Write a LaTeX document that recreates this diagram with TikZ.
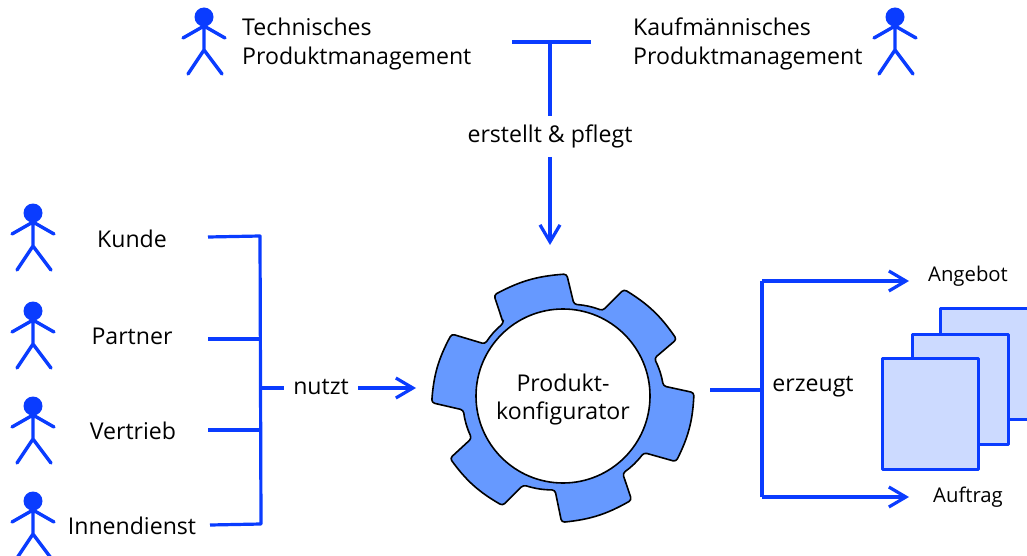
\documentclass[tikz,border=0pt]{standalone}
\usepackage{fontspec}
\setmainfont{Open Sans}
\usetikzlibrary{arrows.meta}
\definecolor{lineblue}{RGB}{10,60,255}
\definecolor{gearblue}{RGB}{102,153,255}
\definecolor{paperblue}{RGB}{204,218,255}
\tikzset{
  conn/.style={draw=lineblue,line width=3.2pt},
  arrowconn/.style={conn,-{Straight Barb[length=17pt,width=20pt,line width=3.2pt]}},
  txt/.style={inner sep=0pt,font=\fontsize{23.1}{29}\selectfont,text=black,align=center},
  smalltxt/.style={inner sep=0pt,font=\fontsize{20.3}{24}\selectfont,text=black},
  paper/.style={draw=lineblue,line width=3pt,fill=paperblue,line join=round},
  actor/.pic={
    \fill[lineblue] (0,-4) ellipse (9.5 and 9.5);
    \draw[lineblue,line width=3.4pt,line cap=round,line join=round]
      (-21,17) -- (0,5) -- (21,17)
      (0,0) -- (0,29)
      (-16,53) -- (0,29) -- (18,53);
  }
}
\begin{document}
\begin{tikzpicture}[x=1pt,y=-1pt]
\clip (0,0) rectangle (1027,556);
\fill[white] (0,0) rectangle (1027,556);
% actors
\pic at (204,21) {actor};
\pic at (895,21) {actor};
\pic at (33,217) {actor};
\pic at (33,315) {actor};
\pic at (33,410) {actor};
\pic at (33,505) {actor};
% labels
\node[txt,anchor=west,align=left] (tech) at (242,44) {Technisches\\Produktmanagement};
\node[txt,anchor=west,align=left] (kauf) at (633,44) {Kaufmännisches\\Produktmanagement};
\node[txt] (erstellt) at (550,136) {erstellt \& pflegt};
\node[txt] (kunde) at (132,239) {Kunde};
\node[txt] (partner) at (132,336) {Partner};
\node[txt] (vertrieb) at (133,431) {Vertrieb};
\node[txt] (innen) at (132,526) {Innendienst};
\node[txt] (nutzt) at (321,387) {nutzt};
\node[txt] (erzeugt) at (813,387) {erzeugt};
\node[smalltxt] (angebot) at (968,276) {Angebot};
\node[smalltxt] (auftrag) at (968,497) {Auftrag};
% gear
\begin{scope}[shift={(420,270)},x=0.3333pt,y=-0.3333pt]
\draw[black,line width=1.6pt,fill=gearblue,line join=round,rounded corners=3pt]
  (250,160) -- (222,75) to[bend left=12] (440,12) -- (462,103)
  to[bend left=8] (548,122) -- (612,58) to[bend left=12] (770,208) -- (703,265)
  to[bend left=8] (730,348) -- (822,368) to[bend left=12] (768,575) -- (672,548)
  to[bend left=8] (608,610) -- (635,690) to[bend left=12] (425,757) -- (405,660)
  to[bend left=8] (310,645) -- (248,707) to[bend left=12] (90,565) -- (155,505)
  to[bend left=8] (130,420) -- (35,398) to[bend left=12] (95,192) -- (195,222)
  to[bend left=8] cycle;
\end{scope}
\node[circle,draw=black,line width=1.6pt,fill=white,minimum size=174pt,inner sep=0pt] (ring) at (563,396) {};
\node[txt,font=\fontsize{23.1}{28}\selectfont] (konf) at (ring.center) [yshift=-3.5pt] {Produkt-\\konfigurator};
% papers
\draw[paper] (940,308) rectangle (1045,419);
\draw[paper] (912,334) rectangle (1008,444);
\draw[paper] (882,358) rectangle (978,469);
% connectors
\coordinate (tl) at (512,42);
\coordinate (tr) at (591,42);
\coordinate (tm) at (550,42);
\coordinate (tb) at (550,116);
\coordinate (as) at (550,157);
\coordinate (ae) at (550,245);
\draw[conn] (tl) -- (tr);
\draw[conn] (tm) -- (tb);
\draw[arrowconn] (as) -- (ae);
\coordinate (k1) at (208,237);
\coordinate (k2) at (260,236);
\coordinate (i1) at (210,525);
\coordinate (i2) at (261,524);
\coordinate (p1) at (208,339);
\coordinate (p2) at (260,339);
\coordinate (v1) at (208,430);
\coordinate (v2) at (260,430);
\coordinate (n1) at (260,388);
\coordinate (n2) at (284,388);
\coordinate (a1) at (358,388);
\coordinate (a2) at (416,388);
\draw[conn,line join=round] (k1) -- (k2) -- (i2) -- (i1);
\draw[conn] (p1) -- (p2);
\draw[conn] (v1) -- (v2);
\draw[conn] (n1) -- (n2);
\draw[arrowconn] (a1) -- (a2);
\coordinate (r1) at (710,390);
\coordinate (r2) at (762,390);
\coordinate (rt) at (762,281);
\coordinate (rb) at (762,497);
\coordinate (re1) at (909,281);
\coordinate (re2) at (909,497);
\draw[conn] (r1) -- (r2);
\draw[arrowconn] (rt) -- (re1);
\draw[arrowconn] (rb) -- (re2);
\draw[conn,line join=round] (rt) -- (rb);
\end{tikzpicture}
\end{document}
